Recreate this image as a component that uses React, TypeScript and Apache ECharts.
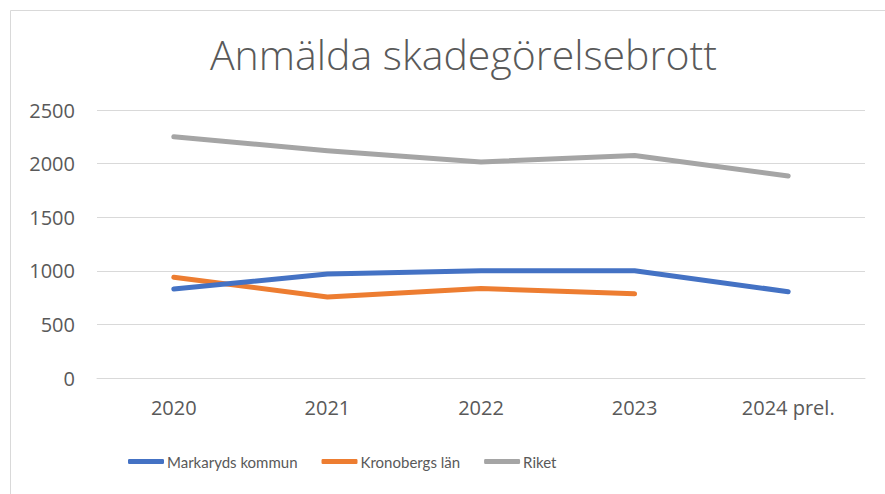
import React, { useEffect, useRef } from "react";
import * as echarts from "echarts";

const categories = ["2020", "2021", "2022", "2023", "2024 prel."];
const markaryd = [830, 970, 1000, 1000, 805];
const kronoberg: (number | null)[] = [940, 755, 835, 785, null];
const riket = [2250, 2120, 2015, 2075, 1885];
const seriesNames = ["Markaryds kommun", "Kronobergs län", "Riket"];
const colors = ["#4472C4", "#ED7D31", "#A5A5A5"];
const titleText = "Anmälda skadegörelsebrott";

const AXFONT = "'Open Sans', Lato, sans-serif";
const LEGFONT = "Lato, 'Open Sans', sans-serif";

export default function App() {
  const ref = useRef<HTMLDivElement>(null);
  useEffect(() => {
    if (!ref.current) return;
    const chart = echarts.init(ref.current, undefined, { renderer: "svg" });
    const dataSets = [markaryd, kronoberg, riket];
    chart.setOption({
      animation: false,
      backgroundColor: "#ffffff",
      title: {
        text: titleText,
        left: 205,
        top: 28,
        textStyle: {
          fontFamily: "'Open Sans', sans-serif",
          fontWeight: 300,
          fontSize: 41,
          color: "#595959",
        },
      },
      graphic: [
        {
          type: "rect",
          shape: { x: 10.5, y: 10.5, width: 1000, height: 1000 },
          style: { fill: "none", stroke: "#d9d9d9", lineWidth: 1 },
          silent: true,
          z: -1,
        },
      ],
      legend: {
        bottom: 20,
        left: 123,
        itemWidth: 36,
        itemHeight: 5,
        itemGap: 24,
        icon: "roundRect",
        textStyle: { fontFamily: LEGFONT, fontSize: 15, color: "#595959", padding: [0, 0, 0, -2] },
        data: seriesNames.map((n, i) => ({
          name: n,
          itemStyle: { color: colors[i] },
        })),
      },
      grid: { left: 97, right: 20, top: 110, bottom: 116 },
      xAxis: {
        type: "category",
        data: categories,
        boundaryGap: true,
        axisTick: { show: false },
        axisLine: { show: true, lineStyle: { color: "#d9d9d9", width: 1 } },
        axisLabel: { fontFamily: AXFONT, fontSize: 20, color: "#595959", margin: 19 },
      },
      yAxis: {
        type: "value",
        min: 0,
        max: 2500,
        interval: 500,
        axisLine: { show: false },
        axisTick: { show: false },
        splitLine: { lineStyle: { color: "#d9d9d9", width: 1 } },
        axisLabel: {
          fontFamily: AXFONT,
          fontSize: 20,
          color: "#595959",
          margin: 22,
          formatter: (v: number) => String(v),
        },
      },
      series: seriesNames.map((n, i) => ({
        name: n,
        type: "line",
        data: dataSets[i],
        symbol: "none",
        connectNulls: false,
        lineStyle: { width: 5, color: colors[i], cap: "round", join: "round" },
        itemStyle: { color: colors[i] },
        z: 3 - i,
      })),
    });
    return () => chart.dispose();
  }, []);
  return (
    <div
      ref={ref}
      style={{ position: "fixed", left: 0, top: 0, width: 885, height: 494 }}
    />
  );
}
